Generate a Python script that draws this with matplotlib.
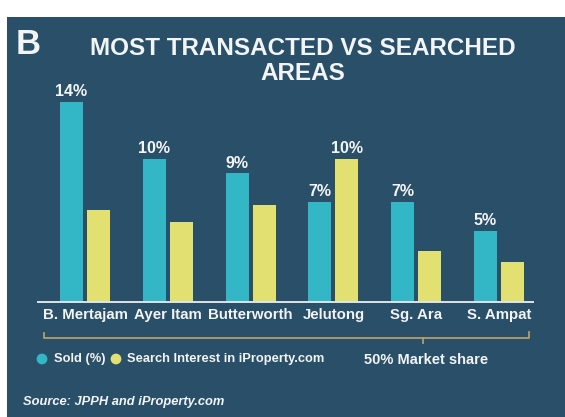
import matplotlib.pyplot as plt
import numpy as np

# data
areas = ["B. Mertajam", "Ayer Itam", "Butterworth", "Jelutong", "Sg. Ara", "S. Ampat"]
sold = [14, 10, 9, 7, 7, 5]
search = [6.4, 5.6, 6.8, 10, 3.6, 2.8]
sold_labels = ["14%", "10%", "9%", "7%", "7%", "5%"]
search_labels = ["", "", "", "10%", "", ""]

BG = "#2a4f68"
CYAN = "#33b7c6"
YELLOW = "#e2e070"
WHITE = "#f2f4f5"
BASE = "#dfe4e6"
BRACE = "#b39e6e"

FONT = ["Liberation Sans", "DejaVu Sans"]

W, H = 565, 417
fig = plt.figure(figsize=(W / 100, H / 100), dpi=100)

bg = fig.add_axes([7 / W, 0, 1 - 7 / W, (H - 17) / H])
bg.set_facecolor(BG)
bg.set_xticks([])
bg.set_yticks([])
for s in bg.spines.values():
    s.set_visible(False)

ax = fig.add_axes([38 / W, (H - 302) / H, 495 / W, 214 / H])
ax.set_facecolor("none")
x = np.arange(len(areas))
w = 0.278
off = 0.163
b1 = ax.bar(x - off, sold, w, color=CYAN, zorder=2)
b2 = ax.bar(x + off, search, w, color=YELLOW, zorder=2)
ax.bar_label(b1, labels=sold_labels, padding=2, color=WHITE,
             fontsize=11.5, fontweight="bold", family=FONT)
ax.bar_label(b2, labels=search_labels, padding=2, color=WHITE,
             fontsize=11.5, fontweight="bold", family=FONT)

ax.set_xlim(-0.568, 5.41)
ax.set_ylim(0, 214 / 14.3)
for s in ["top", "left", "right"]:
    ax.spines[s].set_visible(False)
ax.spines["bottom"].set_color(BASE)
ax.spines["bottom"].set_linewidth(1.4)
ax.set_yticks([])
ax.set_xticks(x, areas)
ax.tick_params(axis="x", length=0, pad=4, colors=WHITE)
for t in ax.get_xticklabels():
    t.set_fontsize(10.8)
    t.set_fontweight("bold")
    t.set_family(FONT)

# overlay in pixel coordinates for title, brace and legend
ov = fig.add_axes([0, 0, 1, 1])
ov.set_xlim(0, W)
ov.set_ylim(H, 0)
ov.axis("off")

ov.text(16, 54, "B", color=WHITE, fontsize=25, fontweight="bold",
        family=FONT, ha="left", va="baseline")
ov.text(303, 55, "MOST TRANSACTED VS SEARCHED", color=WHITE, fontsize=17.5,
        fontweight="bold", family=FONT, ha="center", va="baseline")
ov.text(303, 80, "AREAS", color=WHITE, fontsize=17.5,
        fontweight="bold", family=FONT, ha="center", va="baseline")

ov.plot([44, 44, 529, 529], [333, 338, 338, 332], color=BRACE, lw=1.3)
ov.plot([423, 423], [338, 343], color=BRACE, lw=1.3)

ov.scatter([42], [359], s=60, color=CYAN, edgecolors="none")
ov.scatter([116], [359], s=60, color=YELLOW, edgecolors="none")
ov.text(54, 359, "Sold (%)", color=WHITE, fontsize=9.3, fontweight="bold",
        family=FONT, ha="left", va="center")
ov.text(127, 359, "Search Interest in iProperty.com", color=WHITE, fontsize=9.3,
        fontweight="bold", family=FONT, ha="left", va="center")
ov.text(426, 360, "50% Market share", color=WHITE, fontsize=10.5,
        fontweight="bold", family=FONT, ha="center", va="center")
ov.text(23, 402, "Source: JPPH and iProperty.com", color=WHITE, fontsize=9.3,
        fontweight="bold", fontstyle="italic", family=FONT,
        ha="left", va="center")

fig.savefig("out.png", dpi=100)
